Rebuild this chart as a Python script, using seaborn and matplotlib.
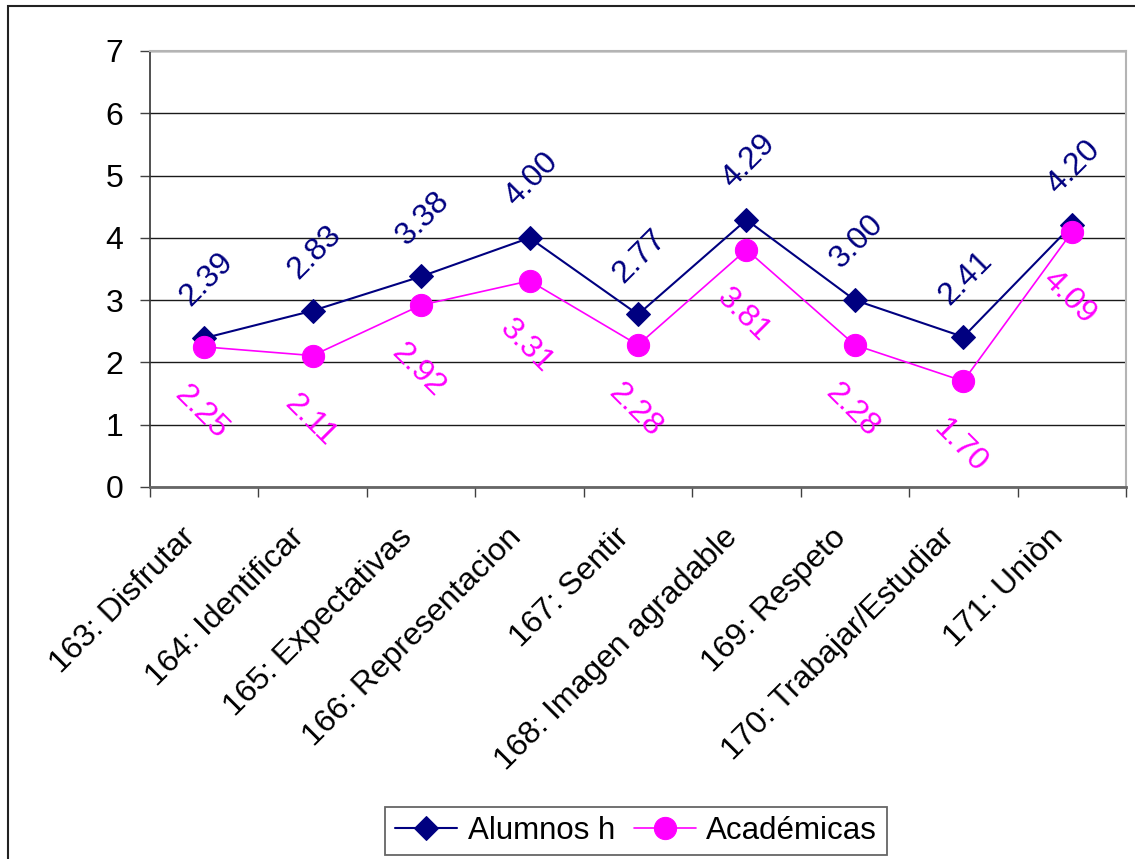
import numpy as np
import pandas as pd
import matplotlib
matplotlib.use("Agg")
import matplotlib.pyplot as plt
import matplotlib.transforms as mtransforms
from matplotlib.patches import Rectangle
import seaborn as sns

categories = ["163: Disfrutar", "164: Identificar", "165: Expectativas",
              "166: Representacion", "167: Sentir", "168: Imagen agradable",
              "169: Respeto", "170: Trabajar/Estudiar", "171: Uniòn"]
alumnos = [2.39, 2.83, 3.38, 4.00, 2.77, 4.29, 3.00, 2.41, 4.20]
academicas = [2.25, 2.11, 2.92, 3.31, 2.28, 3.81, 2.28, 1.70, 4.09]

BLUE = "#000080"
PINK = "#FF00FF"

sns.set_theme(style="white")
plt.rcParams["font.family"] = ["Liberation Sans", "DejaVu Sans"]
plt.rcParams["text.color"] = "black"
plt.rcParams["xtick.labelcolor"] = "black"
plt.rcParams["ytick.labelcolor"] = "black"

df = pd.DataFrame({"cat": categories, "Alumnos h": alumnos, "Académicas": academicas})

fig = plt.figure(figsize=(11.35, 8.59), dpi=100)
ax = fig.add_axes([150 / 1135, 1 - 487 / 859, (1126 - 150) / 1135, (487 - 51) / 859])

sns.lineplot(data=df, x="cat", y="Alumnos h", ax=ax, sort=False, color=BLUE,
             linewidth=1.5, marker="D", markersize=12, markeredgecolor=BLUE,
             label="Alumnos h")
sns.lineplot(data=df, x="cat", y="Académicas", ax=ax, sort=False, color=PINK,
             linewidth=1.2, marker="o", markersize=16, markeredgecolor=PINK,
             label="Académicas")

# data labels
for i, v in enumerate(alumnos):
    ax.annotate(f"{v:.2f}", (i, v), xytext=(1.5, 42), textcoords="offset points",
                ha="center", va="center", rotation=45, color=BLUE, fontsize=23)
for i, v in enumerate(academicas):
    ax.annotate(f"{v:.2f}", (i, v), xytext=(-2, -47), textcoords="offset points",
                ha="center", va="center", rotation=-45, color=PINK, fontsize=23)

ax.set_xlim(-0.5, len(categories) - 0.5)
ax.set_ylim(0, 7)
ax.set_yticks(range(0, 8))
ax.set_xlabel("")
ax.set_ylabel("")

ax.set_axisbelow(True)
ax.yaxis.grid(True, color="#1a1a1a", linewidth=1.0)
ax.xaxis.grid(False)

ax.tick_params(axis="y", which="major", direction="out", length=7, width=1,
               color="#404040", labelsize=23, pad=12, left=True)
ax.set_xticks(np.arange(-0.5, len(categories)), minor=True)
ax.tick_params(axis="x", which="minor", direction="out", length=7, width=1,
               color="#404040", bottom=True)
ax.tick_params(axis="x", which="major", length=0, pad=33, labelsize=23)
ax.set_xticks(range(len(categories)))
ax.set_xticklabels(categories, rotation=45, ha="right", va="center",
                   rotation_mode="anchor")
shift = mtransforms.ScaledTranslation(-0.13, 0, fig.dpi_scale_trans)
for lab in ax.get_xticklabels():
    lab.set_transform(lab.get_transform() + shift)

for side in ["top", "right"]:
    ax.spines[side].set_color("#b4b4b4")
    ax.spines[side].set_linewidth(1.5)
ax.spines["left"].set_color("#333333")
ax.spines["left"].set_linewidth(1.2)
ax.spines["bottom"].set_color("#666666")
ax.spines["bottom"].set_linewidth(2)

leg = ax.legend(loc="center", bbox_to_anchor=(636 / 1135, 1 - 831 / 859),
                bbox_transform=fig.transFigure, ncol=2, fontsize=22.5,
                frameon=True, fancybox=False, handlelength=2.0,
                handletextpad=0.33, columnspacing=0.6, borderpad=0.3,
                borderaxespad=0)
leg.get_frame().set_edgecolor("#404040")
leg.get_frame().set_linewidth(1.3)

# outer chart border (top and left edges visible)
fig.add_artist(Rectangle((8 / 1135, -0.1), 1.2, 1.1 - 6 / 859,
                         transform=fig.transFigure, fill=False,
                         edgecolor="#222222", linewidth=1.5))

fig.savefig("out.png", dpi=100)
